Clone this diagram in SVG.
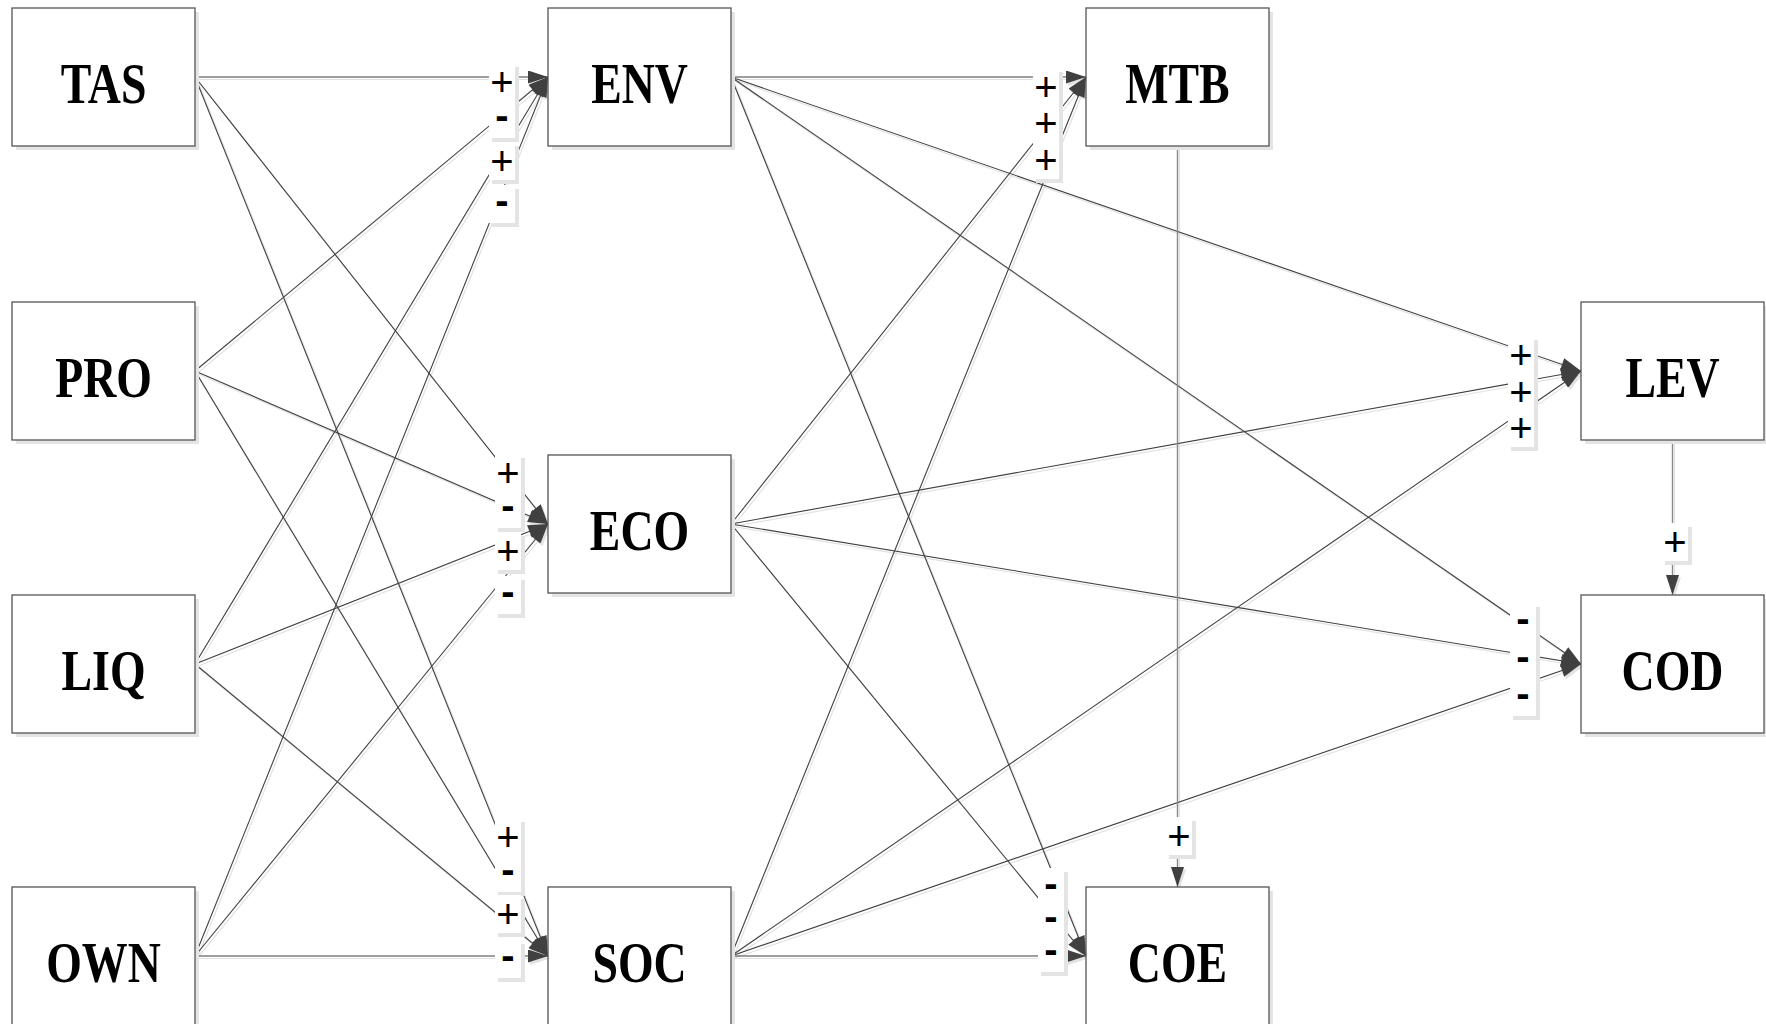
<svg xmlns="http://www.w3.org/2000/svg" width="1766" height="1024" viewBox="0 0 1766 1024">
<style>
.bx{fill:#fff;stroke:#555;stroke-width:1.3}
.bs{fill:#e4e4e4}
.nt{font-family:"Liberation Serif","Times New Roman",serif;font-weight:bold;font-size:58px;fill:#000;text-anchor:middle}
.ln{fill:none;stroke:#404040;stroke-width:1.1;marker-end:url(#ah)}
.sh{fill:none;stroke:#e2e2e2;stroke-width:1.2;marker-end:url(#ahs)}
.vl{fill:none;stroke:#888;stroke-width:1.4;marker-end:url(#ah)}
.lb{fill:#fff}
.ls{fill:#e4e4e4}
.lt{font-family:"Liberation Sans",Arial,sans-serif;font-size:40px;fill:#000;text-anchor:middle}
.lm{font-family:"Liberation Sans",Arial,sans-serif;font-size:40px;font-weight:bold;fill:#000;text-anchor:middle}
</style>
<defs>
<marker id="ah" markerUnits="userSpaceOnUse" markerWidth="21" markerHeight="13" refX="20" refY="6.5" orient="auto" viewBox="0 0 20 13"><path d="M0,0 L20,6.5 L0,13 z" fill="#404040"/></marker>
<marker id="ahs" markerUnits="userSpaceOnUse" markerWidth="21" markerHeight="13" refX="20" refY="6.5" orient="auto" viewBox="0 0 20 13"><path d="M0,0 L20,6.5 L0,13 z" fill="#e2e2e2"/></marker>
</defs>
<rect width="1766" height="1024" fill="#fff"/>
<g id="connectors">
<g transform="translate(2,2.5)">
<path class="sh" d="M195,77 L548,77"/><path class="sh" d="M195,77 L548,524"/><path class="sh" d="M195,77 L548,956"/>
<path class="sh" d="M195,371 L548,77"/><path class="sh" d="M195,371 L548,524"/><path class="sh" d="M195,371 L548,956"/>
<path class="sh" d="M195,664 L548,77"/><path class="sh" d="M195,664 L548,524"/><path class="sh" d="M195,664 L548,956"/>
<path class="sh" d="M195,956 L548,77"/><path class="sh" d="M195,956 L548,524"/><path class="sh" d="M195,956 L548,956"/>
<path class="sh" d="M731,77 L1086,77"/><path class="sh" d="M731,77 L1581,371"/><path class="sh" d="M731,77 L1581,664"/><path class="sh" d="M731,77 L1086,956"/>
<path class="sh" d="M731,524 L1086,77"/><path class="sh" d="M731,524 L1581,371"/><path class="sh" d="M731,524 L1581,664"/><path class="sh" d="M731,524 L1086,956"/>
<path class="sh" d="M731,956 L1086,77"/><path class="sh" d="M731,956 L1581,371"/><path class="sh" d="M731,956 L1581,664"/><path class="sh" d="M731,956 L1086,956"/>
<path class="sh" d="M1177.5,146 L1177.5,887"/><path class="sh" d="M1672.5,440 L1672.5,595"/>
</g>
<path class="ln" d="M195,77 L548,77"/><path class="ln" d="M195,77 L548,524"/><path class="ln" d="M195,77 L548,956"/>
<path class="ln" d="M195,371 L548,77"/><path class="ln" d="M195,371 L548,524"/><path class="ln" d="M195,371 L548,956"/>
<path class="ln" d="M195,664 L548,77"/><path class="ln" d="M195,664 L548,524"/><path class="ln" d="M195,664 L548,956"/>
<path class="ln" d="M195,956 L548,77"/><path class="ln" d="M195,956 L548,524"/><path class="ln" d="M195,956 L548,956"/>
<path class="ln" d="M731,77 L1086,77"/><path class="ln" d="M731,77 L1581,371"/><path class="ln" d="M731,77 L1581,664"/><path class="ln" d="M731,77 L1086,956"/>
<path class="ln" d="M731,524 L1086,77"/><path class="ln" d="M731,524 L1581,371"/><path class="ln" d="M731,524 L1581,664"/><path class="ln" d="M731,524 L1086,956"/>
<path class="ln" d="M731,956 L1086,77"/><path class="ln" d="M731,956 L1581,371"/><path class="ln" d="M731,956 L1581,664"/><path class="ln" d="M731,956 L1086,956"/>
<path class="vl" d="M1177.5,146 L1177.5,887"/><path class="vl" d="M1672.5,440 L1672.5,595"/>
<g id="labels">
<g transform="translate(502,82)"><rect class="ls" x="-10" y="-15" width="27" height="38"/><rect class="lb" x="-13" y="-19" width="26" height="38"/><text class="lt" y="14">+</text></g>
<g transform="translate(502,119)"><rect class="ls" x="-10" y="-15" width="27" height="38"/><rect class="lb" x="-13" y="-19" width="26" height="38"/><text class="lm" y="10">-</text></g>
<g transform="translate(502,161)"><rect class="ls" x="-10" y="-15" width="27" height="38"/><rect class="lb" x="-13" y="-19" width="26" height="38"/><text class="lt" y="14">+</text></g>
<g transform="translate(502,204)"><rect class="ls" x="-10" y="-15" width="27" height="38"/><rect class="lb" x="-13" y="-19" width="26" height="38"/><text class="lm" y="10">-</text></g>
<g transform="translate(508,473)"><rect class="ls" x="-10" y="-15" width="27" height="38"/><rect class="lb" x="-13" y="-19" width="26" height="38"/><text class="lt" y="14">+</text></g>
<g transform="translate(508,509)"><rect class="ls" x="-10" y="-15" width="27" height="38"/><rect class="lb" x="-13" y="-19" width="26" height="38"/><text class="lm" y="10">-</text></g>
<g transform="translate(508,551)"><rect class="ls" x="-10" y="-15" width="27" height="38"/><rect class="lb" x="-13" y="-19" width="26" height="38"/><text class="lt" y="14">+</text></g>
<g transform="translate(508,595)"><rect class="ls" x="-10" y="-15" width="27" height="38"/><rect class="lb" x="-13" y="-19" width="26" height="38"/><text class="lm" y="10">-</text></g>
<g transform="translate(508,837)"><rect class="ls" x="-10" y="-15" width="27" height="38"/><rect class="lb" x="-13" y="-19" width="26" height="38"/><text class="lt" y="14">+</text></g>
<g transform="translate(508,873)"><rect class="ls" x="-10" y="-15" width="27" height="38"/><rect class="lb" x="-13" y="-19" width="26" height="38"/><text class="lm" y="10">-</text></g>
<g transform="translate(508,914)"><rect class="ls" x="-10" y="-15" width="27" height="38"/><rect class="lb" x="-13" y="-19" width="26" height="38"/><text class="lt" y="14">+</text></g>
<g transform="translate(508,959)"><rect class="ls" x="-10" y="-15" width="27" height="38"/><rect class="lb" x="-13" y="-19" width="26" height="38"/><text class="lm" y="10">-</text></g>
<g transform="translate(1046,87)"><rect class="ls" x="-10" y="-15" width="27" height="38"/><rect class="lb" x="-13" y="-19" width="26" height="38"/><text class="lt" y="14">+</text></g>
<g transform="translate(1046,123)"><rect class="ls" x="-10" y="-15" width="27" height="38"/><rect class="lb" x="-13" y="-19" width="26" height="38"/><text class="lt" y="14">+</text></g>
<g transform="translate(1046,160)"><rect class="ls" x="-10" y="-15" width="27" height="38"/><rect class="lb" x="-13" y="-19" width="26" height="38"/><text class="lt" y="14">+</text></g>
<g transform="translate(1521,355)"><rect class="ls" x="-10" y="-15" width="27" height="38"/><rect class="lb" x="-13" y="-19" width="26" height="38"/><text class="lt" y="14">+</text></g>
<g transform="translate(1521,392)"><rect class="ls" x="-10" y="-15" width="27" height="38"/><rect class="lb" x="-13" y="-19" width="26" height="38"/><text class="lt" y="14">+</text></g>
<g transform="translate(1521,428)"><rect class="ls" x="-10" y="-15" width="27" height="38"/><rect class="lb" x="-13" y="-19" width="26" height="38"/><text class="lt" y="14">+</text></g>
<g transform="translate(1523,622)"><rect class="ls" x="-10" y="-15" width="27" height="38"/><rect class="lb" x="-13" y="-19" width="26" height="38"/><text class="lm" y="10">-</text></g>
<g transform="translate(1523,660)"><rect class="ls" x="-10" y="-15" width="27" height="38"/><rect class="lb" x="-13" y="-19" width="26" height="38"/><text class="lm" y="10">-</text></g>
<g transform="translate(1523,697)"><rect class="ls" x="-10" y="-15" width="27" height="38"/><rect class="lb" x="-13" y="-19" width="26" height="38"/><text class="lm" y="10">-</text></g>
<g transform="translate(1051,887)"><rect class="ls" x="-10" y="-15" width="27" height="38"/><rect class="lb" x="-13" y="-19" width="26" height="38"/><text class="lm" y="10">-</text></g>
<g transform="translate(1051,920)"><rect class="ls" x="-10" y="-15" width="27" height="38"/><rect class="lb" x="-13" y="-19" width="26" height="38"/><text class="lm" y="10">-</text></g>
<g transform="translate(1051,953)"><rect class="ls" x="-10" y="-15" width="27" height="38"/><rect class="lb" x="-13" y="-19" width="26" height="38"/><text class="lm" y="10">-</text></g>
<g transform="translate(1179,836)"><rect class="ls" x="-10" y="-15" width="27" height="38"/><rect class="lb" x="-13" y="-19" width="26" height="38"/><text class="lt" y="14">+</text></g>
<g transform="translate(1675,542)"><rect class="ls" x="-10" y="-15" width="27" height="38"/><rect class="lb" x="-13" y="-19" width="26" height="38"/><text class="lt" y="14">+</text></g>
</g>
</g>
<g id="TAS"><rect class="bs" x="16" y="12" width="183" height="138"/><rect class="bx" x="12" y="8" width="183" height="138"/><text class="nt" transform="translate(103.5,103) scale(0.79,1)">TAS</text></g>
<g id="PRO"><rect class="bs" x="16" y="306" width="183" height="138"/><rect class="bx" x="12" y="302" width="183" height="138"/><text class="nt" transform="translate(103.5,397) scale(0.79,1)">PRO</text></g>
<g id="LIQ"><rect class="bs" x="16" y="599" width="183" height="138"/><rect class="bx" x="12" y="595" width="183" height="138"/><text class="nt" transform="translate(103.5,690) scale(0.79,1)">LIQ</text></g>
<g id="OWN"><rect class="bs" x="16" y="891" width="183" height="138"/><rect class="bx" x="12" y="887" width="183" height="138"/><text class="nt" transform="translate(103.5,982) scale(0.79,1)">OWN</text></g>
<g id="ENV"><rect class="bs" x="552" y="12" width="183" height="138"/><rect class="bx" x="548" y="8" width="183" height="138"/><text class="nt" transform="translate(639.5,103) scale(0.79,1)">ENV</text></g>
<g id="ECO"><rect class="bs" x="552" y="459" width="183" height="138"/><rect class="bx" x="548" y="455" width="183" height="138"/><text class="nt" transform="translate(639.5,550) scale(0.79,1)">ECO</text></g>
<g id="SOC"><rect class="bs" x="552" y="891" width="183" height="138"/><rect class="bx" x="548" y="887" width="183" height="138"/><text class="nt" transform="translate(639.5,982) scale(0.79,1)">SOC</text></g>
<g id="MTB"><rect class="bs" x="1090" y="12" width="183" height="138"/><rect class="bx" x="1086" y="8" width="183" height="138"/><text class="nt" transform="translate(1177.5,103) scale(0.79,1)">MTB</text></g>
<g id="COE"><rect class="bs" x="1090" y="891" width="183" height="138"/><rect class="bx" x="1086" y="887" width="183" height="138"/><text class="nt" transform="translate(1177.5,982) scale(0.79,1)">COE</text></g>
<g id="LEV"><rect class="bs" x="1585" y="306" width="181" height="138"/><rect class="bx" x="1581" y="302" width="183" height="138"/><text class="nt" transform="translate(1672.5,397) scale(0.79,1)">LEV</text></g>
<g id="COD"><rect class="bs" x="1585" y="599" width="181" height="138"/><rect class="bx" x="1581" y="595" width="183" height="138"/><text class="nt" transform="translate(1672.5,690) scale(0.79,1)">COD</text></g>
</svg>
